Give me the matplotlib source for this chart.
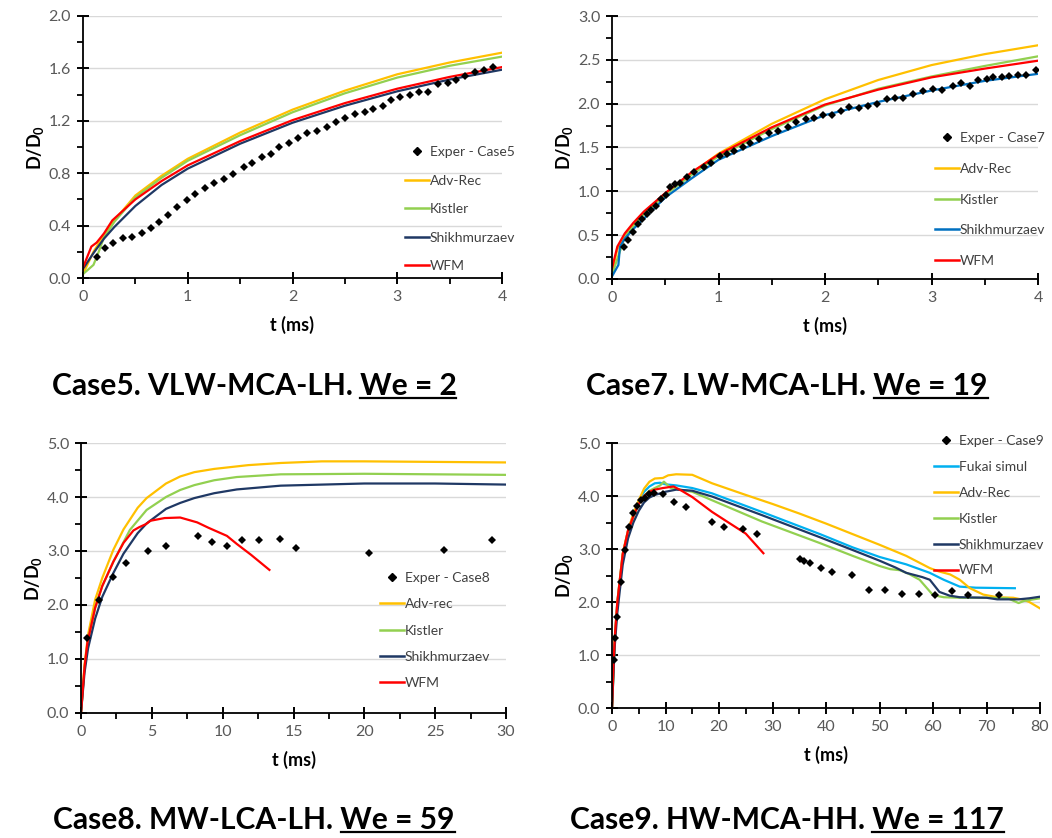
import matplotlib
matplotlib.use("Agg")
import matplotlib.pyplot as plt
from matplotlib.ticker import MultipleLocator, FormatStrFormatter
from matplotlib.lines import Line2D

plt.rcParams['font.family'] = ['Lato', 'DejaVu Sans']
plt.rcParams['mathtext.fontset'] = 'custom'
plt.rcParams['mathtext.rm'] = 'Lato'
plt.rcParams['mathtext.bf'] = 'Lato:bold'
plt.rcParams['mathtext.it'] = 'Lato:italic'

ORANGE = '#FFC000'
GREEN = '#92D050'
NAVY = '#1F3864'
BLUE = '#0070C0'
RED = '#FF0000'
CYAN = '#00B0F0'

# ---------------- Case5 ----------------
c5_exp_t = [0.13, 0.21, 0.29, 0.38, 0.47, 0.56, 0.645, 0.73, 0.815, 0.90, 0.99, 1.07, 1.165, 1.255, 1.345,
            1.435, 1.535, 1.615, 1.705, 1.79, 1.87, 1.97, 2.05, 2.14, 2.23, 2.325, 2.42, 2.505, 2.60, 2.69,
            2.77, 2.86, 2.945, 3.03, 3.12, 3.21, 3.295, 3.39, 3.48, 3.56, 3.65, 3.74, 3.83, 3.91]
c5_exp_d = [0.16, 0.23, 0.27, 0.305, 0.315, 0.34, 0.385, 0.43, 0.48, 0.54, 0.595, 0.64, 0.685, 0.725, 0.755,
            0.795, 0.85, 0.875, 0.925, 0.945, 1.0, 1.03, 1.07, 1.11, 1.125, 1.155, 1.19, 1.22, 1.25, 1.27,
            1.29, 1.31, 1.36, 1.385, 1.40, 1.42, 1.42, 1.48, 1.49, 1.515, 1.54, 1.575, 1.585, 1.61]
c5_adv_t = [0, 0.1, 0.2, 0.3, 0.5, 0.75, 1, 1.5, 2, 2.5, 3, 3.5, 4]
c5_adv_d = [0.03, 0.2, 0.33, 0.44, 0.63, 0.78, 0.91, 1.11, 1.285, 1.43, 1.555, 1.645, 1.72]
c5_kis_t = [0, 0.1, 0.15, 0.2, 0.3, 0.5, 0.75, 1, 1.5, 2, 2.5, 3, 3.5, 4]
c5_kis_d = [0.03, 0.1, 0.2, 0.31, 0.43, 0.615, 0.765, 0.895, 1.09, 1.265, 1.41, 1.53, 1.62, 1.69]
c5_shi_t = [0, 0.1, 0.2, 0.3, 0.5, 0.75, 1, 1.5, 2, 2.5, 3, 3.5, 4]
c5_shi_d = [0.07, 0.19, 0.3, 0.39, 0.55, 0.71, 0.835, 1.025, 1.185, 1.315, 1.425, 1.515, 1.59]
c5_wfm_t = [0, 0.08, 0.13, 0.2, 0.28, 0.5, 0.75, 1, 1.5, 2, 2.5, 3, 3.5, 4]
c5_wfm_d = [0.08, 0.24, 0.27, 0.34, 0.44, 0.6, 0.74, 0.86, 1.045, 1.205, 1.335, 1.445, 1.535, 1.61]

# ---------------- Case7 ----------------
c7_exp_t = [0.11, 0.15, 0.197, 0.24, 0.284, 0.33, 0.37, 0.416, 0.46, 0.51, 0.547, 0.59, 0.634, 0.70, 0.77,
            0.86, 0.93, 1.01, 1.084, 1.15, 1.23, 1.30, 1.384, 1.47, 1.56, 1.65, 1.73, 1.82, 1.90, 1.98,
            2.07, 2.15, 2.23, 2.32, 2.40, 2.49, 2.58, 2.66, 2.73, 2.83, 2.92, 3.015, 3.10, 3.20, 3.275,
            3.36, 3.44, 3.52, 3.58, 3.66, 3.73, 3.81, 3.89, 3.98]
c7_exp_d = [0.365, 0.445, 0.535, 0.63, 0.69, 0.745, 0.79, 0.835, 0.91, 0.96, 1.045, 1.08, 1.10, 1.16, 1.215,
            1.275, 1.325, 1.40, 1.425, 1.465, 1.51, 1.555, 1.595, 1.67, 1.69, 1.73, 1.79, 1.82, 1.84, 1.87,
            1.875, 1.915, 1.965, 1.945, 1.975, 2.0, 2.055, 2.06, 2.065, 2.11, 2.145, 2.165, 2.155, 2.205, 2.235,
            2.205, 2.265, 2.285, 2.30, 2.305, 2.315, 2.325, 2.325, 2.38]
c7_adv_t = [0, 0.05, 0.12, 0.2, 0.3, 0.5, 0.75, 1, 1.5, 2, 2.5, 3, 3.5, 4]
c7_adv_d = [0.08, 0.34, 0.5, 0.62, 0.75, 0.97, 1.21, 1.43, 1.77, 2.05, 2.27, 2.44, 2.565, 2.666]
c7_kis_t = [0, 0.07, 0.12, 0.2, 0.3, 0.5, 0.75, 1, 1.5, 2, 2.5, 3, 3.5, 4]
c7_kis_d = [0.05, 0.3, 0.48, 0.6, 0.74, 0.96, 1.19, 1.40, 1.71, 1.98, 2.17, 2.31, 2.43, 2.54]
c7_shi_t = [0, 0.06, 0.075, 0.12, 0.2, 0.3, 0.5, 0.75, 1, 1.5, 2, 2.5, 3, 3.5, 4]
c7_shi_d = [0.03, 0.16, 0.37, 0.46, 0.57, 0.69, 0.93, 1.15, 1.36, 1.63, 1.87, 2.02, 2.15, 2.26, 2.34]
c7_wfm_t = [0, 0.05, 0.12, 0.2, 0.3, 0.5, 0.75, 1, 1.5, 2, 2.5, 3, 3.5, 4]
c7_wfm_d = [0.12, 0.37, 0.52, 0.64, 0.77, 0.98, 1.22, 1.42, 1.73, 1.99, 2.16, 2.30, 2.40, 2.49]

# ---------------- Case8 ----------------
c8_exp_t = [0.45, 1.27, 2.24, 3.15, 4.7, 6.0, 8.24, 9.27, 10.28, 11.39, 12.56, 14.05, 15.2, 20.35, 25.6, 29.0]
c8_exp_d = [1.39, 2.09, 2.51, 2.77, 3.0, 3.09, 3.27, 3.17, 3.09, 3.21, 3.21, 3.23, 3.05, 2.96, 3.02, 3.20]
c8_adv_t = [0, 0.25, 0.5, 1, 1.5, 2.28, 3, 4, 4.63, 6, 7, 8, 9.4, 11.8, 14.1, 17, 20, 25, 30]
c8_adv_d = [0, 0.9, 1.45, 2.1, 2.5, 3.02, 3.4, 3.8, 3.98, 4.25, 4.38, 4.46, 4.52, 4.59, 4.63, 4.66, 4.66, 4.65, 4.64]
c8_kis_t = [0, 0.25, 0.5, 1, 1.5, 2.28, 3.45, 4.63, 6, 7, 8, 9.4, 11, 14.1, 20, 25, 30]
c8_kis_d = [0, 0.85, 1.35, 1.95, 2.35, 2.8, 3.39, 3.76, 4.0, 4.13, 4.22, 4.31, 4.37, 4.42, 4.43, 4.42, 4.41]
c8_shi_t = [0, 0.25, 0.5, 1, 1.5, 2.28, 3, 4, 4.63, 6, 7, 8, 9.4, 11, 14.1, 20, 25, 30]
c8_shi_d = [0, 0.75, 1.2, 1.75, 2.15, 2.59, 2.95, 3.33, 3.51, 3.78, 3.89, 3.98, 4.07, 4.14, 4.21, 4.25, 4.25, 4.23]
c8_wfm_t = [0, 0.25, 0.45, 1, 1.5, 2.28, 3, 3.7, 4.1, 4.6, 4.9, 5.9, 7, 8.2, 9, 10.3, 11, 12, 13.3]
c8_wfm_d = [0, 0.85, 1.3, 1.95, 2.35, 2.8, 3.15, 3.38, 3.44, 3.5, 3.56, 3.61, 3.62, 3.53, 3.43, 3.28, 3.13, 2.93, 2.65]

# ---------------- Case9 ----------------
c9_exp_t = [0.3, 0.6, 0.87, 1.68, 2.43, 3.18, 3.92, 4.67, 5.48, 6.2, 7.0, 7.9, 9.5, 11.6, 13.8, 18.7, 21.0,
            24.5, 27.1, 35.2, 35.9, 37.0, 39.1, 41.1, 44.8, 48.1, 51.1, 54.2, 57.3, 60.4, 63.5, 66.5, 72.4]
c9_exp_d = [0.91, 1.32, 1.71, 2.38, 2.98, 3.41, 3.67, 3.81, 3.92, 3.965, 4.03, 4.05, 4.03, 3.88, 3.80, 3.51, 3.41,
            3.38, 3.29, 2.82, 2.78, 2.74, 2.65, 2.57, 2.51, 2.23, 2.23, 2.16, 2.16, 2.14, 2.20, 2.14, 2.13]
c9_fuk_t = [0, 0.5, 1, 2, 3, 4, 5, 6, 7, 8, 9, 10, 12, 15, 18.7, 28, 38.9, 45, 50, 55, 59.4, 62, 65, 68, 75.3]
c9_fuk_d = [0, 1.3, 2.0, 2.9, 3.35, 3.65, 3.9, 4.08, 4.18, 4.24, 4.25, 4.22, 4.2, 4.15, 4.05, 3.70, 3.28, 3.03,
            2.85, 2.71, 2.55, 2.42, 2.29, 2.27, 2.26]
c9_adv_t = [0, 0.5, 1, 2, 3, 4, 5, 6, 7, 8, 9.5, 10.5, 12, 15, 18.7, 25, 30, 35, 40, 45, 50, 55, 59.4, 61,
            63.2, 65, 66.9, 69.4, 72, 75, 77, 78, 80]
c9_adv_d = [0, 1.3, 2.0, 2.92, 3.35, 3.67, 3.92, 4.14, 4.27, 4.33, 4.34, 4.39, 4.41, 4.40, 4.24, 4.02, 3.85,
            3.67, 3.48, 3.28, 3.08, 2.87, 2.64, 2.58, 2.52, 2.42, 2.26, 2.14, 2.09, 2.08, 2.04, 2.0, 1.88]
c9_kis_t = [0, 0.5, 1, 2, 3, 4, 5, 6, 7, 8, 9, 9.7, 11, 15, 18.7, 28, 38.9, 45, 50, 52, 53.8, 55.5, 57.5,
            60, 62, 65, 70, 74, 76, 77, 80]
c9_kis_d = [0, 1.25, 1.95, 2.85, 3.3, 3.6, 3.85, 4.0, 4.1, 4.15, 4.2, 4.27, 4.15, 4.08, 3.92, 3.52, 3.11, 2.87,
            2.68, 2.62, 2.60, 2.53, 2.42, 2.13, 2.09, 2.08, 2.08, 2.07, 1.98, 2.02, 2.07]
c9_shi_t = [0, 0.5, 1, 2, 3, 4, 5, 6, 7, 8, 9, 10, 12, 15, 18.7, 28, 38.9, 45, 50, 53, 55, 58, 59.4, 61.2,
            63.1, 65, 70, 72, 76, 78, 80]
c9_shi_d = [0, 1.15, 1.8, 2.7, 3.2, 3.5, 3.72, 3.88, 3.97, 4.02, 4.05, 4.08, 4.12, 4.1, 3.99, 3.64, 3.22, 2.98,
            2.78, 2.65, 2.55, 2.47, 2.42, 2.19, 2.12, 2.09, 2.08, 2.05, 2.05, 2.07, 2.10]
c9_wfm_t = [0, 0.3, 0.6, 1, 2, 3, 4, 5, 6, 7, 8, 9.5, 11.5, 13, 15, 18.7, 21, 25, 28.3]
c9_wfm_d = [0, 0.9, 1.45, 2.0, 2.9, 3.35, 3.62, 3.85, 4.0, 4.08, 4.12, 4.15, 4.18, 4.1, 3.98, 3.70, 3.55, 3.29, 2.92]

W, H = 1052, 838
fig = plt.figure(figsize=(W / 100, H / 100), dpi=100)


def px_axes(x0, y0, x1, y1):
    return fig.add_axes([x0 / W, 1 - y1 / H, (x1 - x0) / W, (y1 - y0) / H])


def style(ax, xmax, xmaj, ymax, ymaj):
    ax.set_xlim(0, xmax)
    ax.set_ylim(0, ymax)
    ax.xaxis.set_major_locator(MultipleLocator(xmaj))
    ax.xaxis.set_minor_locator(MultipleLocator(xmaj / 2))
    ax.yaxis.set_major_locator(MultipleLocator(ymaj))
    ax.yaxis.set_minor_locator(MultipleLocator(ymaj / 2))
    ax.yaxis.set_major_formatter(FormatStrFormatter('%.1f'))
    for s in ['top', 'right']:
        ax.spines[s].set_visible(False)
    for s in ['left', 'bottom']:
        ax.spines[s].set_linewidth(1.3)
        ax.spines[s].set_zorder(3)
    ax.grid(axis='y', which='major', color='#D9D9D9', lw=1.0, zorder=0)
    ax.tick_params(axis='both', which='major', direction='inout', length=9, width=1.4,
                   color='black', labelsize=11.5, labelcolor='#595959', pad=4)
    ax.tick_params(axis='both', which='minor', direction='out', length=4.5, width=1.3,
                   color='black')
    ax.set_xlabel('t (ms)', fontsize=13, fontweight='bold', labelpad=9)
    ax.set_ylabel(r'$\mathbf{D/D_0}$', fontsize=13, labelpad=2)


def add_legend(ax, handles, labels, x, y, spacing):
    ax.legend(handles, labels, loc='upper left', bbox_to_anchor=(x / W, 1 - y / H),
              bbox_transform=fig.transFigure, frameon=False, fontsize=10,
              borderpad=0, borderaxespad=0, handlelength=1.7, handletextpad=0.1,
              labelspacing=spacing, labelcolor='#404040')


def exp_handle():
    return Line2D([], [], color='black', marker='D', markersize=4.5, linestyle='none')


def line_handle(c):
    return Line2D([], [], color=c, lw=1.8)


LW = 1.6
MS = 4.5

# Case5
ax1 = px_axes(83, 16, 502, 278)
style(ax1, 4, 1, 2.0, 0.4)
ax1.plot(c5_adv_t, c5_adv_d, color=ORANGE, lw=LW)
ax1.plot(c5_kis_t, c5_kis_d, color=GREEN, lw=LW)
ax1.plot(c5_shi_t, c5_shi_d, color=NAVY, lw=LW)
ax1.plot(c5_wfm_t, c5_wfm_d, color=RED, lw=LW)
ax1.plot(c5_exp_t, c5_exp_d, 'D', color='black', ms=MS, mew=0)
add_legend(ax1, [exp_handle(), line_handle(ORANGE), line_handle(GREEN), line_handle(NAVY), line_handle(RED)],
           ['Exper - Case5', 'Adv-Rec', 'Kistler', 'Shikhmurzaev', 'WFM'], 405, 146, 1.19)

# Case7
ax2 = px_axes(612, 16, 1038, 279)
style(ax2, 4, 1, 3.0, 0.5)
ax2.plot(c7_adv_t, c7_adv_d, color=ORANGE, lw=LW)
ax2.plot(c7_kis_t, c7_kis_d, color=GREEN, lw=LW)
ax2.plot(c7_shi_t, c7_shi_d, color=BLUE, lw=LW)
ax2.plot(c7_wfm_t, c7_wfm_d, color=RED, lw=LW)
ax2.plot(c7_exp_t, c7_exp_d, 'D', color='black', ms=MS, mew=0)
add_legend(ax2, [exp_handle(), line_handle(ORANGE), line_handle(GREEN), line_handle(BLUE), line_handle(RED)],
           ['Exper - Case7', 'Adv-Rec', 'Kistler', 'Shikhmurzaev', 'WFM'], 935, 132, 1.35)

# Case8
ax3 = px_axes(81, 443, 506, 713)
style(ax3, 30, 5, 5.0, 1.0)
ax3.plot(c8_adv_t, c8_adv_d, color=ORANGE, lw=LW)
ax3.plot(c8_kis_t, c8_kis_d, color=GREEN, lw=LW)
ax3.plot(c8_shi_t, c8_shi_d, color=NAVY, lw=LW)
ax3.plot(c8_wfm_t, c8_wfm_d, color=RED, lw=LW)
ax3.plot(c8_exp_t, c8_exp_d, 'D', color='black', ms=MS, mew=0)
add_legend(ax3, [exp_handle(), line_handle(ORANGE), line_handle(GREEN), line_handle(NAVY), line_handle(RED)],
           ['Exper - Case8', 'Adv-rec', 'Kistler', 'Shikhmurzaev', 'WFM'], 380, 572, 1.03)

# Case9
ax4 = px_axes(612, 443, 1040, 708)
style(ax4, 80, 10, 5.0, 1.0)
ax4.plot(c9_fuk_t, c9_fuk_d, color=CYAN, lw=LW)
ax4.plot(c9_adv_t, c9_adv_d, color=ORANGE, lw=LW)
ax4.plot(c9_kis_t, c9_kis_d, color=GREEN, lw=LW)
ax4.plot(c9_shi_t, c9_shi_d, color=NAVY, lw=LW)
ax4.plot(c9_wfm_t, c9_wfm_d, color=RED, lw=LW)
ax4.plot(c9_exp_t, c9_exp_d, 'D', color='black', ms=MS, mew=0)
add_legend(ax4, [exp_handle(), line_handle(CYAN), line_handle(ORANGE), line_handle(GREEN), line_handle(NAVY),
                 line_handle(RED)],
           ['Exper - Case9', 'Fukai simul', 'Adv-Rec', 'Kistler', 'Shikhmurzaev', 'WFM'], 934, 435, 1.0)

# captions with underlined Weber number
captions = [
    (254, 386, 'Case5. VLW-MCA-LH. ', 'We = 2'),
    (787, 386, 'Case7. LW-MCA-LH. ', 'We = 19'),
    (254, 820, 'Case8. MW-LCA-LH. ', 'We = 59'),
    (787, 820, 'Case9. HW-MCA-HH. ', 'We = 117'),
]
cap_texts = []
for xc, yc, main, under in captions:
    t = fig.text(xc / W, 1 - yc / H, main + under, ha='center', va='center',
                 fontsize=21.6, fontweight='bold', color='black')
    cap_texts.append((t, under))

fig.canvas.draw()
renderer = fig.canvas.get_renderer()
for t, under in cap_texts:
    bb = t.get_window_extent(renderer)
    tmp = fig.text(0, 0, under, fontsize=21.6, fontweight='bold')
    w = tmp.get_window_extent(renderer).width
    tmp.remove()
    yline = bb.y0 + 2
    fig.add_artist(Line2D([(bb.x1 - w) / W, bb.x1 / W], [yline / H, yline / H],
                          transform=fig.transFigure, color='black', lw=1.6))

fig.savefig('out.png', dpi=100)
